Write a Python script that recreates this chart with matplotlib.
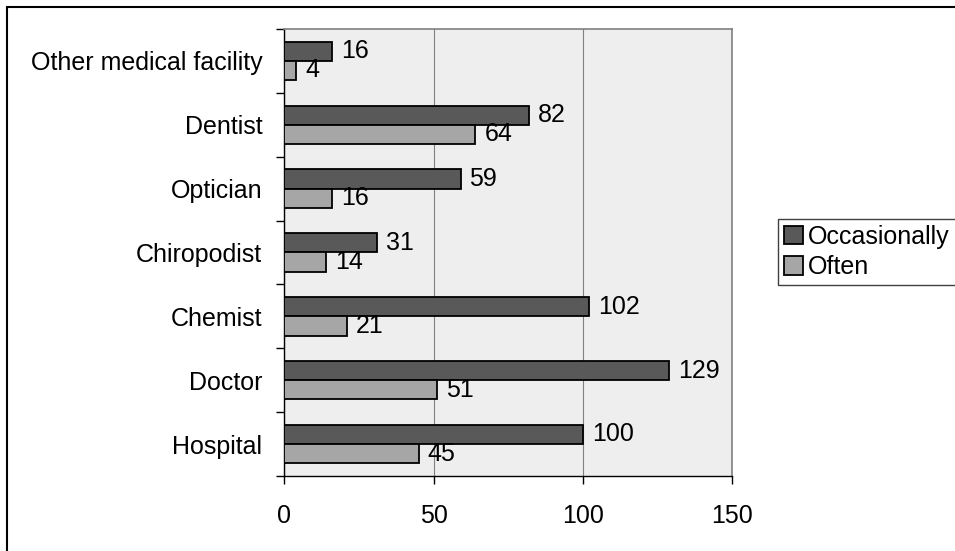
import numpy as np
import matplotlib.pyplot as plt
from matplotlib.patches import Rectangle

plt.rcParams.update({'font.size': 18})
plt.rcParams['font.family'] = ['Liberation Sans', 'DejaVu Sans']

# --------------------------------------------------------------------
#                       DATA
# --------------------------------------------------------------------

# bottom to top, as drawn on the axis
categories = ['Hospital', 'Doctor', 'Chemist', 'Chiropodist',
              'Optician', 'Dentist', 'Other medical facility']
occasionally = [100, 129, 102, 31, 59, 82, 16]
often = [45, 51, 21, 14, 16, 64, 4]
x_ticks = [0, 50, 100, 150]

# --------------------------------------------------------------------
#                       PLOT
# --------------------------------------------------------------------

fig = plt.figure(figsize=(9.55, 5.51), dpi=100)
ax = fig.add_axes([0.2979, 0.1361, 0.4686, 0.8113])

# outer chart frame (only top and left visible in the original)
fig.patches.append(Rectangle((7 / 955, -0.1), 1.2, 1 - 7 / 551 + 0.1,
                             transform=fig.transFigure, fill=False,
                             edgecolor='black', linewidth=1.5))

y = np.arange(len(categories))
h = 0.3
ax.set_facecolor('#EEEEEE')

b1 = ax.barh(y + h / 2, occasionally, height=h, color='#595959',
             edgecolor='black', linewidth=1.3, label='Occasionally', zorder=3)
b2 = ax.barh(y - h / 2, often, height=h, color='#A6A6A6',
             edgecolor='black', linewidth=1.3, label='Often', zorder=3)

for bars, vals in ((b1, occasionally), (b2, often)):
    for bar, v in zip(bars, vals):
        ax.text(v + 3, bar.get_y() + bar.get_height() / 2, str(v),
                va='center', ha='left', zorder=4)

ax.set_xlim(0, 150)
ax.set_ylim(-0.5, len(categories) - 0.5)
ax.set_xticks(x_ticks)
ax.xaxis.grid(True, color='#808080', linewidth=0.8, zorder=1)
ax.tick_params(axis='x', direction='out', length=6, width=1, pad=14)

# category labels at centres, tick marks on the boundaries
ax.set_yticks(y)
ax.set_yticklabels(categories)
ax.tick_params(axis='y', which='major', length=0, pad=16)
ax.set_yticks(np.arange(-0.5, len(categories), 1), minor=True)
ax.tick_params(axis='y', which='minor', direction='out', length=6, width=1)

for side in ('top', 'right'):
    ax.spines[side].set_color('#808080')
    ax.spines[side].set_linewidth(1.2)
for side in ('left', 'bottom'):
    ax.spines[side].set_color('black')
    ax.spines[side].set_linewidth(1.0)

leg = ax.legend(loc='center left', bbox_to_anchor=(778 / 955, 1 - 252 / 551),
                bbox_transform=fig.transFigure, fancybox=False, framealpha=1,
                edgecolor='#404040', borderpad=0.25, labelspacing=0.25,
                handlelength=0.75, handleheight=0.75, handletextpad=0.2,
                borderaxespad=0)
leg.get_frame().set_linewidth(1.0)

plt.savefig('out.png', dpi=100)
plt.close()
